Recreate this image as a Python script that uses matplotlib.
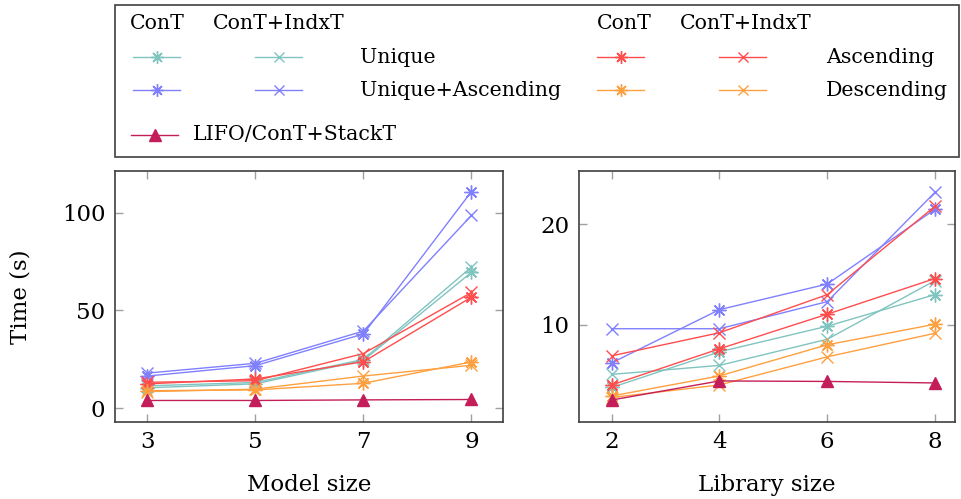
import matplotlib
matplotlib.use("Agg")
import matplotlib.pyplot as plt
from matplotlib.patches import Rectangle

plt.rcParams['font.family'] = ['DejaVu Serif']

# ---------------- data ----------------
model_sizes = [3, 5, 7, 9]
lib_sizes = [2, 4, 6, 8]

# Model size panel
m_cont_unique = [10.5, 12.5, 24.5, 69.5]
m_indx_unique = [11.5, 13.2, 25.0, 72.2]
m_cont_uasc = [16.5, 21.8, 38.0, 110.8]
m_indx_uasc = [18.0, 23.0, 39.5, 98.6]
m_cont_asc = [12.5, 15.0, 23.8, 56.8]
m_indx_asc = [13.3, 14.1, 28.0, 59.2]
m_cont_desc = [9.0, 9.4, 12.8, 23.7]
m_indx_desc = [8.5, 9.8, 16.5, 22.0]
m_lifo = [4.0, 4.0, 4.3, 4.5]

# Library size panel
l_cont_unique = [3.75, 7.3, 9.85, 13.0]
l_indx_unique = [5.05, 5.95, 8.55, 14.4]
l_cont_uasc = [6.2, 11.5, 14.05, 21.5]
l_indx_uasc = [9.6, 9.6, 12.3, 23.2]
l_cont_asc = [4.0, 7.6, 11.05, 14.6]
l_indx_asc = [6.9, 9.2, 13.0, 21.8]
l_cont_desc = [2.9, 4.9, 8.0, 10.05]
l_indx_desc = [2.75, 4.0, 6.8, 9.15]
l_lifo = [2.5, 4.4, 4.35, 4.2]

left_yticks = [0, 50, 100]
right_yticks = [10, 20]

series_labels = ["Unique", "Unique+Ascending", "Ascending", "Descending"]
header_labels = ["ConT", "ConT+IndxT"]
lifo_label = "LIFO/ConT+StackT"

# ---------------- styles ----------------
C_TEAL = "#80c4c0"
C_BLUE = "#8080ff"
C_RED = "#ff4d4d"
C_ORANGE = "#ffa040"
C_LIFO = "#c41e5a"
STAR = (8, 2, 0)

def star_kw(c):
    return dict(color=c, marker=STAR, markersize=10, markeredgewidth=1.0, lw=1.0)

def x_kw(c):
    return dict(color=c, marker='x', markersize=8, markeredgewidth=1.0, lw=1.0)

lifo_kw = dict(color=C_LIFO, marker='^', markersize=9, lw=1.0)

W, H = 961, 499
fig = plt.figure(figsize=(W / 100, H / 100), dpi=100)

def frac(x0, y0, x1, y1):
    return [x0 / W, 1 - y1 / H, (x1 - x0) / W, (y1 - y0) / H]

axL = fig.add_axes(frac(115, 171, 503.3, 421.7))
axR = fig.add_axes(frac(579.3, 171, 955, 421.7))

def draw(ax, xs, data):
    (cu, iu, cua, iua, ca, ia, cd, idd, lf) = data
    ax.plot(xs, cu, **star_kw(C_TEAL))
    ax.plot(xs, iu, **x_kw(C_TEAL))
    ax.plot(xs, cua, **star_kw(C_BLUE))
    ax.plot(xs, iua, **x_kw(C_BLUE))
    ax.plot(xs, ca, **star_kw(C_RED))
    ax.plot(xs, ia, **x_kw(C_RED))
    ax.plot(xs, cd, **star_kw(C_ORANGE))
    ax.plot(xs, idd, **x_kw(C_ORANGE))
    ax.plot(xs, lf, **lifo_kw)

draw(axL, model_sizes, [m_cont_unique, m_indx_unique, m_cont_uasc, m_indx_uasc,
                        m_cont_asc, m_indx_asc, m_cont_desc, m_indx_desc, m_lifo])
draw(axR, lib_sizes, [l_cont_unique, l_indx_unique, l_cont_uasc, l_indx_uasc,
                      l_cont_asc, l_indx_asc, l_cont_desc, l_indx_desc, l_lifo])

axL.set_xlim(2.40, 9.59)
axL.set_ylim(-6.85, 121.3)
axR.set_xlim(1.40, 8.37)
axR.set_ylim(0.34, 25.31)

axL.set_xticks(model_sizes)
axL.set_yticks(left_yticks)
axR.set_xticks(lib_sizes)
axR.set_yticks(right_yticks)

TFS = 16.5
for ax in (axL, axR):
    ax.tick_params(direction='in', length=6, width=1.0, color='#a0a0a0',
                   top=True, right=True, labelsize=TFS, pad=7)
    for s in ax.spines.values():
        s.set_color('#404040')
        s.set_linewidth(1.2)

axL.set_xlabel("Model size", fontsize=TFS, labelpad=15)
axR.set_xlabel("Library size", fontsize=TFS, labelpad=15)
axL.set_ylabel("Time (s)", fontsize=TFS, labelpad=22)

# ---------------- legend ----------------
leg = fig.add_axes([0, 0, 1, 1], facecolor='none')
leg.set_xlim(0, W)
leg.set_ylim(H, 0)
leg.axis('off')
leg.add_patch(Rectangle((115, 5), 844, 152, fill=False, edgecolor='#404040', lw=1.2))

fs = 14.8
hy = 23
for gx in (130, 597):
    leg.text(gx, hy, header_labels[0], fontsize=fs, va='center', ha='left')
    leg.text(gx + 83, hy, header_labels[1], fontsize=fs, va='center', ha='left')

rows = [(57, C_TEAL, C_RED, series_labels[0], series_labels[2]),
        (90, C_BLUE, C_ORANGE, series_labels[1], series_labels[3])]
for ry, c1, c2, lab1, lab2 in rows:
    for gx, c, lab, tx in ((133, c1, lab1, 360), (597, c2, lab2, 826)):
        leg.plot([gx, gx + 47], [ry, ry], color=c, lw=1.0)
        leg.plot([gx + 23.5], [ry], color=c, marker=STAR, markersize=9, markeredgewidth=1.0)
        leg.plot([gx + 122, gx + 169], [ry, ry], color=c, lw=1.0)
        leg.plot([gx + 145.5], [ry], color=c, marker='x', markersize=7, markeredgewidth=1.0)
        leg.text(tx, ry, lab, fontsize=fs, va='center', ha='left')

ly = 135
leg.plot([131, 178], [ly, ly], color=C_LIFO, lw=1.0)
leg.plot([154.5], [ly], color=C_LIFO, marker='^', markersize=8)
leg.text(193, ly, lifo_label, fontsize=fs, va='center', ha='left')

fig.savefig("out.png", dpi=100)
